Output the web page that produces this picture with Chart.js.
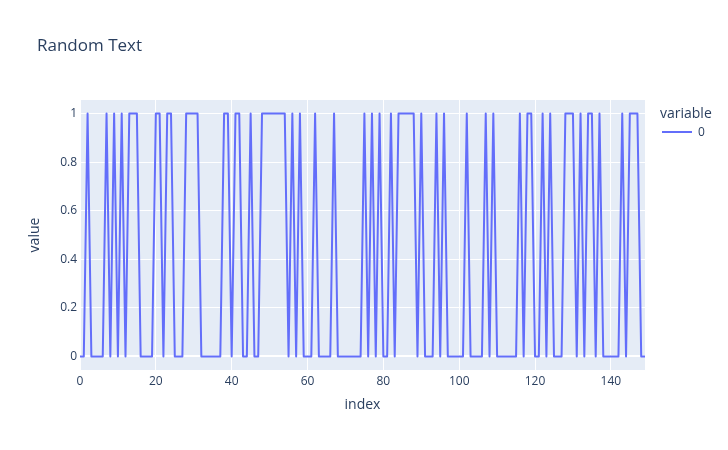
<!DOCTYPE html>
<html>
<head>
<meta charset="utf-8">
<script src="https://cdn.jsdelivr.net/npm/chart.js@4/dist/chart.umd.min.js"></script>
<style>
  html, body { margin: 0; padding: 0; background: #fff; }
  #wrap { width: 728px; height: 450px; position: relative; }
</style>
</head>
<body>
<div id="wrap"><canvas id="c" width="728" height="450"></canvas></div>
<script>
const chartTitle = "Random Text";
const xAxisTitle = "index";
const yAxisTitle = "value";
const legendTitle = "variable";
const seriesName = "0";
const values = [
  0,0,1,0,0,0,0,1,0,1,
  0,1,0,1,1,1,0,0,0,0,
  1,1,0,1,1,0,0,0,1,1,
  1,1,0,0,0,0,0,0,1,1,
  0,1,1,0,0,1,0,0,1,1,
  1,1,1,1,1,0,1,0,1,0,
  0,0,1,0,0,0,0,1,0,0,
  0,0,0,0,0,1,0,1,0,1,
  0,0,1,0,1,1,1,1,1,0,
  1,0,0,0,1,0,1,0,0,0,
  0,0,1,0,0,0,0,1,0,1,
  0,0,0,0,0,0,1,0,1,1,
  0,0,1,0,1,0,0,0,1,1,
  1,0,1,0,1,1,0,1,0,0,
  0,0,0,1,0,1,1,1,0,0
];
const indices = values.map((v, i) => i);
const xTickStep = 20;
const yTickStep = 0.2;

const FONT = "'Open Sans', 'Noto Sans', sans-serif";
const TXT = "#2a3f5f";
const LINE = "#636efa";

const decor = {
  id: 'decor',
  beforeDraw(chart) {
    const {ctx, chartArea: a} = chart;
    ctx.save();
    ctx.fillStyle = "#E5ECF6";
    ctx.fillRect(a.left, a.top, a.right - a.left, a.bottom - a.top);
    ctx.restore();
  },
  afterDraw(chart) {
    const ctx = chart.ctx;
    ctx.save();
    ctx.fillStyle = TXT;
    ctx.textBaseline = 'alphabetic';
    ctx.textAlign = 'left';
    ctx.font = "17px " + FONT;
    ctx.fillText(chartTitle, 37, 51);
    ctx.font = "14px " + FONT;
    ctx.fillText(legendTitle, 660, 118);
    ctx.strokeStyle = LINE;
    ctx.lineWidth = 2;
    ctx.beginPath();
    ctx.moveTo(662, 132);
    ctx.lineTo(692, 132);
    ctx.stroke();
    ctx.font = "12px " + FONT;
    ctx.textBaseline = 'middle';
    ctx.fillText(seriesName, 698, 132.5);
    ctx.restore();
  }
};

new Chart(document.getElementById('c'), {
  type: 'line',
  data: {
    datasets: [{
      label: seriesName,
      data: indices.map((x, i) => ({x: x, y: values[i]})),
      borderColor: LINE,
      backgroundColor: LINE,
      borderWidth: 2,
      pointRadius: 0,
      tension: 0,
      borderJoinStyle: 'round',
      fill: false
    }]
  },
  options: {
    responsive: false,
    animation: false,
    devicePixelRatio: 1,
    layout: { padding: { left: 0, top: 100, right: 83, bottom: 0 } },
    plugins: { legend: { display: false }, title: { display: false }, tooltip: { enabled: false } },
    scales: {
      x: {
        type: 'linear',
        min: 0,
        max: indices[indices.length - 1],
        afterFit(s) { s.height = 80; },
        border: { display: false },
        grid: {
          color: '#ffffff',
          lineWidth: c => (c.tick && c.tick.value === 0 ? 2 : 1),
          drawTicks: false
        },
        ticks: {
          stepSize: xTickStep,
          includeBounds: false,
          padding: 4,
          color: TXT,
          font: { family: FONT, size: 12 },
          maxRotation: 0
        },
        title: {
          display: true,
          text: xAxisTitle,
          color: TXT,
          font: { family: FONT, size: 14 },
          padding: { top: 0, bottom: 36.6 }
        }
      },
      y: {
        type: 'linear',
        min: -0.0556,
        max: 1.0556,
        afterFit(s) { s.width = 80; },
        border: { display: false },
        grid: {
          color: '#ffffff',
          lineWidth: c => (c.tick && c.tick.value === 0 ? 2 : 1),
          drawTicks: false
        },
        ticks: {
          stepSize: yTickStep,
          includeBounds: false,
          padding: 3,
          color: TXT,
          font: { family: FONT, size: 12 },
          callback: v => String(+(+v).toFixed(2))
        },
        title: {
          display: true,
          text: yAxisTitle,
          color: TXT,
          font: { family: FONT, size: 14 },
          padding: { top: 26.6, bottom: 0 }
        }
      }
    }
  },
  plugins: [decor]
});
</script>
</body>
</html>
